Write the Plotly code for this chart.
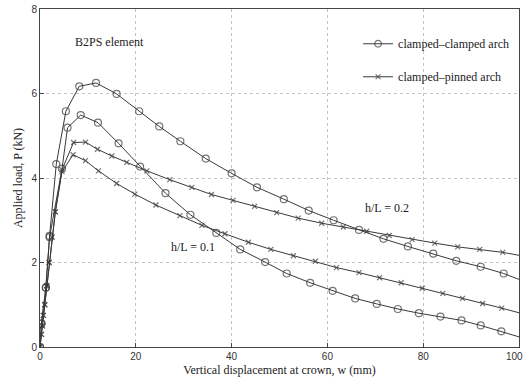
import plotly.graph_objects as go

# clamped-clamped arch, h/L = 0.2
cc02_w = [0, 0.3, 1.25, 2.0, 3.4, 5.4, 8.2, 11.7, 16.0, 20.7, 24.9, 29.3, 34.6, 40.0, 45.3,
          50.9, 56.1, 61.3, 66.6, 71.7, 76.8, 82.1, 86.9, 92.0, 96.8, 100]
cc02_p = [0, 0.56, 1.41, 2.63, 4.33, 5.58, 6.17, 6.25, 5.99, 5.58, 5.22, 4.87, 4.46, 4.11, 3.78,
          3.50, 3.23, 3.00, 2.77, 2.56, 2.38, 2.21, 2.04, 1.90, 1.74, 1.60]
# clamped-clamped arch, h/L = 0.1
cc01_w = [0, 0.3, 1.2, 2.0, 4.6, 5.75, 8.5, 12.1, 16.4, 20.9, 26.2, 31.4, 36.8, 41.8, 47.0,
          51.5, 56.4, 61.1, 65.8, 70.3, 74.7, 79.1, 83.6, 88.0, 92.0, 96.3, 100]
cc01_p = [0, 0.55, 1.4, 2.6, 4.22, 5.19, 5.49, 5.31, 4.82, 4.27, 3.64, 3.13, 2.70, 2.31, 2.01,
          1.74, 1.52, 1.33, 1.15, 1.02, 0.90, 0.80, 0.72, 0.63, 0.51, 0.37, 0.24]
# clamped-pinned arch, h/L = 0.2
cp02_w = [0, 0.3, 0.5, 0.7, 1.0, 1.4, 1.9, 2.5, 3.2, 4.6, 7.0, 9.5, 12.0, 15.0, 18.1, 22.3,
          27.1, 31.7, 35.8, 40.3, 44.8, 49.4, 53.9, 58.8, 63.3, 68.2, 72.9, 77.7, 82.4, 87.2,
          91.8, 96.6, 100]
cp02_p = [0, 0.3, 0.5, 0.75, 1.0, 1.45, 2.0, 2.6, 3.2, 4.2, 4.84, 4.85, 4.68, 4.52, 4.37, 4.17,
          3.96, 3.78, 3.61, 3.47, 3.33, 3.18, 3.05, 2.93, 2.84, 2.74, 2.64, 2.54, 2.46, 2.37,
          2.31, 2.24, 2.17]
# clamped-pinned arch, h/L = 0.1
cp01_w = [0, 0.3, 0.5, 0.7, 1.0, 1.4, 1.9, 2.5, 3.2, 4.6, 6.9, 9.5, 12.2, 16.0, 19.8, 24.2,
          29.2, 33.8, 38.6, 43.5, 48.2, 52.9, 57.5, 61.9, 66.6, 70.9, 75.4, 79.8, 84.1, 88.2,
          92.4, 96.4, 100]
cp01_p = [0, 0.3, 0.5, 0.75, 1.0, 1.45, 2.0, 2.6, 3.2, 4.15, 4.55, 4.41, 4.17, 3.87, 3.62, 3.36,
          3.11, 2.88, 2.68, 2.48, 2.31, 2.16, 2.03, 1.88, 1.76, 1.64, 1.52, 1.39, 1.27, 1.15,
          1.03, 0.92, 0.81]

x_ticks = [0, 20, 40, 60, 80, 100]
y_ticks = [0, 2, 4, 6, 8]

LINE = "#3a3a3a"
SERIF = "Liberation Serif"
TICKFONT = dict(family="Liberation Sans", size=10, color="#333")

fig = go.Figure()

def sizes(n, s):
    return [s] * (n - 1) + [0]

series = [
    (cc02_w, cc02_p, "circle-open", 7, "clamped\u2013clamped arch", True, "cc"),
    (cc01_w, cc01_p, "circle-open", 7, "clamped\u2013clamped arch", False, "cc"),
    (cp02_w, cp02_p, "x-thin-open", 5, "clamped\u2013pinned arch", True, "cp"),
    (cp01_w, cp01_p, "x-thin-open", 5, "clamped\u2013pinned arch", False, "cp"),
]
for w, p, sym, sz, name, show, grp in series:
    fig.add_trace(go.Scatter(
        x=w, y=p, mode="lines+markers", name=name, showlegend=show, legendgroup=grp,
        line=dict(color=LINE, width=1),
        marker=dict(symbol=sym, size=sizes(len(w), sz), color=LINE,
                    line=dict(color=LINE, width=1.2)),
    ))

fig.add_annotation(x=14.6, y=7.23, text="B2PS element", showarrow=False,
                   font=dict(family=SERIF, size=12, color="#222"))
fig.add_annotation(x=72.5, y=3.28, text="h/L = 0.2", showarrow=False,
                   font=dict(family=SERIF, size=12, color="#222"))
fig.add_annotation(x=31.9, y=2.36, text="h/L = 0.1", showarrow=False,
                   font=dict(family=SERIF, size=12, color="#222"))

# last x tick label, right-aligned so it stays inside the picture
fig.add_annotation(x=x_ticks[-1], xref="x", y=0, yref="paper", yanchor="top",
                   xanchor="right", xshift=6, yshift=-2, text=str(x_ticks[-1]),
                   showarrow=False, font=TICKFONT)

axis_common = dict(
    showline=True, linecolor="#444", linewidth=1, mirror=True,
    ticks="inside", ticklen=4, tickcolor="#444",
    showgrid=True, gridcolor="#c4c4c4", griddash="dot", gridwidth=1,
    zeroline=False, tickfont=TICKFONT,
    ticklabeloverflow="allow", automargin=False,
)

fig.update_xaxes(range=[0, 100], tickvals=x_ticks,
                 ticktext=[str(v) for v in x_ticks[:-1]] + [""],
                 title=dict(text="Vertical displacement at crown, w (mm)",
                            font=dict(family=SERIF, size=12, color="#222"), standoff=4),
                 **axis_common)
fig.update_yaxes(range=[0, 8], tickvals=y_ticks, ticktext=[str(v) for v in y_ticks],
                 title=dict(text="Applied load, P (kN)",
                            font=dict(family=SERIF, size=12, color="#222"), standoff=6),
                 **axis_common)

fig.update_layout(
    width=525, height=380,
    margin=dict(l=40, r=6, t=9, b=33, autoexpand=False),
    paper_bgcolor="white", plot_bgcolor="white",
    legend=dict(x=0.664, y=0.94, xanchor="left", yanchor="top",
                bgcolor="rgba(0,0,0,0)", tracegroupgap=14,
                font=dict(family=SERIF, size=12, color="#222")),
)

fig.write_html("out.html", config={"displayModeBar": False},
               post_script="document.body.style.margin='0';document.body.style.overflow='hidden';")
